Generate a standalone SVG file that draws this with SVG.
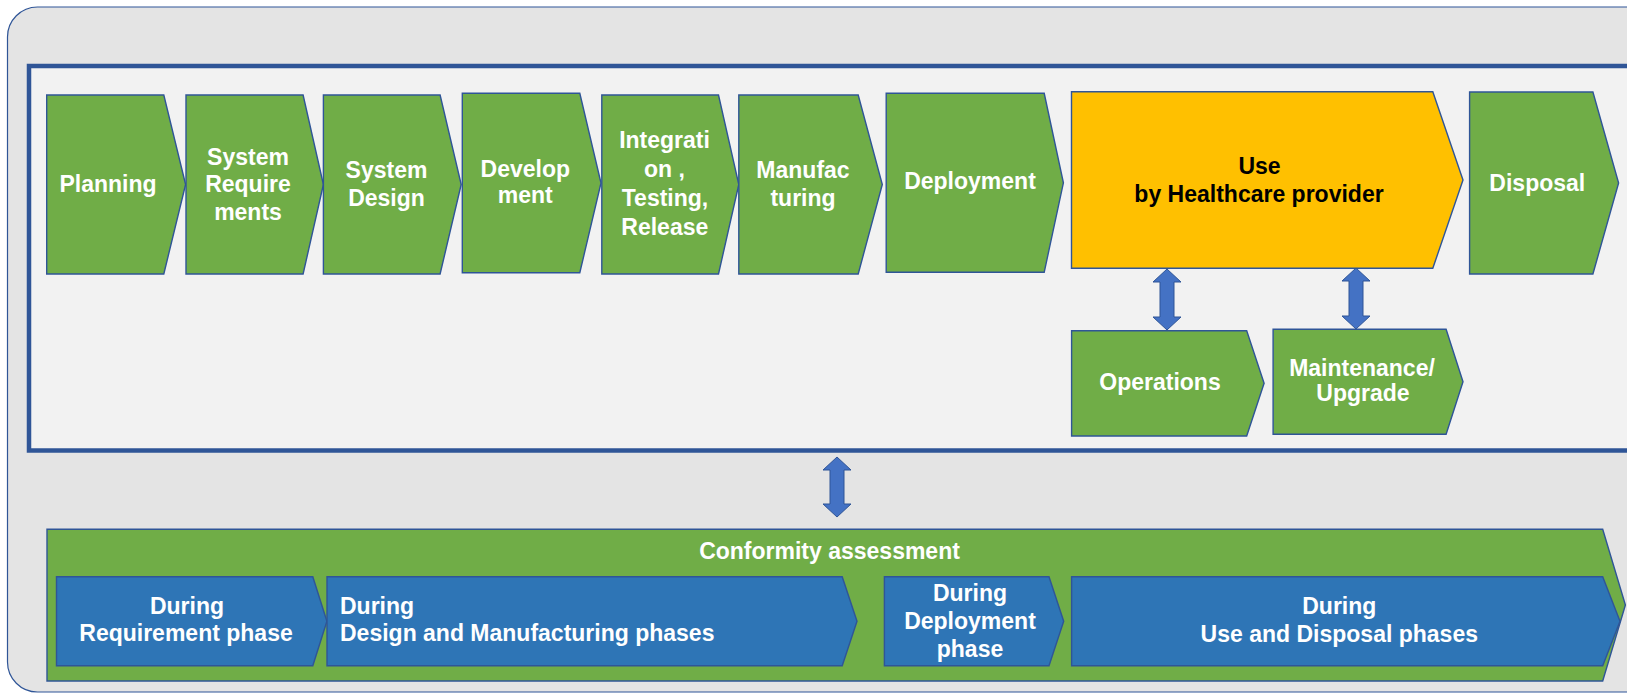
<svg xmlns="http://www.w3.org/2000/svg" width="1627" height="693" viewBox="0 0 1627 693">
  <defs>
    <style>
      .frame { fill: #e4e4e4; stroke: #2f5597; stroke-width: 1.2; }
      .lane { fill: #f2f2f2; stroke: #2f5597; stroke-width: 4.5; }
      .g { fill: #70ad47; stroke: #2f5597; stroke-width: 1.4; }
      .o { fill: #ffc000; stroke: #2f5597; stroke-width: 1.4; }
      .b { fill: #2e75b6; stroke: #2f5597; stroke-width: 1.4; }
      .arr { fill: #4472c4; stroke: #2f5597; stroke-width: 1; }
      text { font-family: "Liberation Sans", Arial, sans-serif; font-weight: bold; font-size: 23px; fill: #ffffff; text-anchor: middle; }
      text.dark { fill: #000000; }
      text.left { text-anchor: start; }
    </style>
  </defs>

  <rect width="1627" height="693" fill="#ffffff"/>

  <!-- outer frame and lifecycle lane -->
  <rect class="frame" x="7.5" y="7" width="1660" height="685" rx="30" ry="30"/>
  <rect class="lane" x="29" y="66" width="1620" height="384.5"/>

  <!-- lifecycle phases -->
  <g id="planning">
    <path class="g" d="M46.7,95 H163.8 L185.6,184.5 L163.8,274 H46.7 Z"/>
    <text x="108" y="191.7">Planning</text>
  </g>
  <g id="system-requirements">
    <path class="g" d="M186,95 H303.1 L323.4,184.5 L303.1,274 H186 Z"/>
    <text x="248" y="165">System</text>
    <text x="248" y="192">Require</text>
    <text x="248" y="219.5">ments</text>
  </g>
  <g id="system-design">
    <path class="g" d="M323.4,95 H440.1 L461.2,184.5 L440.1,274 H323.4 Z"/>
    <text x="386.5" y="178.3">System</text>
    <text x="386.5" y="205.7">Design</text>
  </g>
  <g id="development">
    <path class="g" d="M462.3,93.3 H579.8 L601,183 L579.8,272.7 H462.3 Z"/>
    <text x="525.3" y="176.7">Develop</text>
    <text x="525.3" y="203.3">ment</text>
  </g>
  <g id="integration">
    <path class="g" d="M601.8,95 H718.5 L738.8,184.5 L718.5,274 H601.8 Z"/>
    <text x="664.5" y="148">Integrati</text>
    <text x="664.5" y="177">on ,</text>
    <text x="665" y="206">Testing,</text>
    <text x="664.8" y="235">Release</text>
  </g>
  <g id="manufacturing">
    <path class="g" d="M738.8,95 H858.2 L882.3,184.5 L858.2,274 H738.8 Z"/>
    <text x="803" y="178.3">Manufac</text>
    <text x="803" y="205.7">turing</text>
  </g>
  <g id="deployment">
    <path class="g" d="M886.2,93.3 H1044.2 L1063.4,182.8 L1044.2,272.3 H886.2 Z"/>
    <text x="970" y="189.3">Deployment</text>
  </g>
  <g id="use">
    <path class="o" d="M1071.5,91.7 H1432.8 L1463,180 L1432.8,268.3 H1071.5 Z"/>
    <text class="dark" x="1259.5" y="174">Use</text>
    <text class="dark" x="1259" y="201.7">by Healthcare provider</text>
  </g>
  <g id="disposal">
    <path class="g" d="M1469.6,92 H1592.9 L1618.6,183 L1592.9,274 H1469.6 Z"/>
    <text x="1537.3" y="190.7">Disposal</text>
  </g>
  <g id="operations">
    <path class="g" d="M1071.6,330.7 H1246.7 L1264.1,383.3 L1246.7,436 H1071.6 Z"/>
    <text x="1160" y="390">Operations</text>
  </g>
  <g id="maintenance">
    <path class="g" d="M1273.1,329.3 H1446.1 L1463,381.8 L1446.1,434.3 H1273.1 Z"/>
    <text x="1362" y="375.7">Maintenance/</text>
    <text x="1363" y="401">Upgrade</text>
  </g>

  <!-- conformity assessment band -->
  <g id="conformity-assessment">
    <path class="g" d="M47,529.3 H1602.7 L1625.4,605 L1602.7,681 H47 Z"/>
    <text x="829.5" y="559">Conformity assessment</text>
  </g>
  <g id="ca-requirement">
    <path class="b" d="M56.5,576.7 H312.8 L326.9,621.2 L312.8,665.7 H56.5 Z"/>
    <text x="187" y="614.3">During</text>
    <text x="186" y="641">Requirement phase</text>
  </g>
  <g id="ca-design-manufacturing">
    <path class="b" d="M327,576.7 H842.2 L857,621.2 L842.2,665.7 H327 Z"/>
    <text class="left" x="340" y="614.3">During</text>
    <text class="left" x="340" y="641">Design and Manufacturing phases</text>
  </g>
  <g id="ca-deployment">
    <path class="b" d="M884.4,576.7 H1049 L1063.7,621.2 L1049,665.7 H884.4 Z"/>
    <text x="970" y="600.7">During</text>
    <text x="970" y="629">Deployment</text>
    <text x="970" y="656.5">phase</text>
  </g>
  <g id="ca-use-disposal">
    <path class="b" d="M1071.6,576.7 H1602.7 L1620,621.2 L1602.7,665.7 H1071.6 Z"/>
    <text x="1339.3" y="614.3">During</text>
    <text x="1339.3" y="641.7">Use and Disposal phases</text>
  </g>

  <!-- two-way links -->
  <g id="connectors">
    <path class="arr" d="M1167,269 L1181,282 L1174,282 L1174,317 L1181,317 L1167,330 L1153,317 L1160,317 L1160,282 L1153,282 Z"/>
    <path class="arr" d="M1356,268 L1370,281 L1363,281 L1363,316 L1370,316 L1356,329 L1342,316 L1349,316 L1349,281 L1342,281 Z"/>
    <path class="arr" d="M837,457 L851,470 L844,470 L844,504 L851,504 L837,517 L823,504 L830,504 L830,470 L823,470 Z"/>
  </g>
</svg>
